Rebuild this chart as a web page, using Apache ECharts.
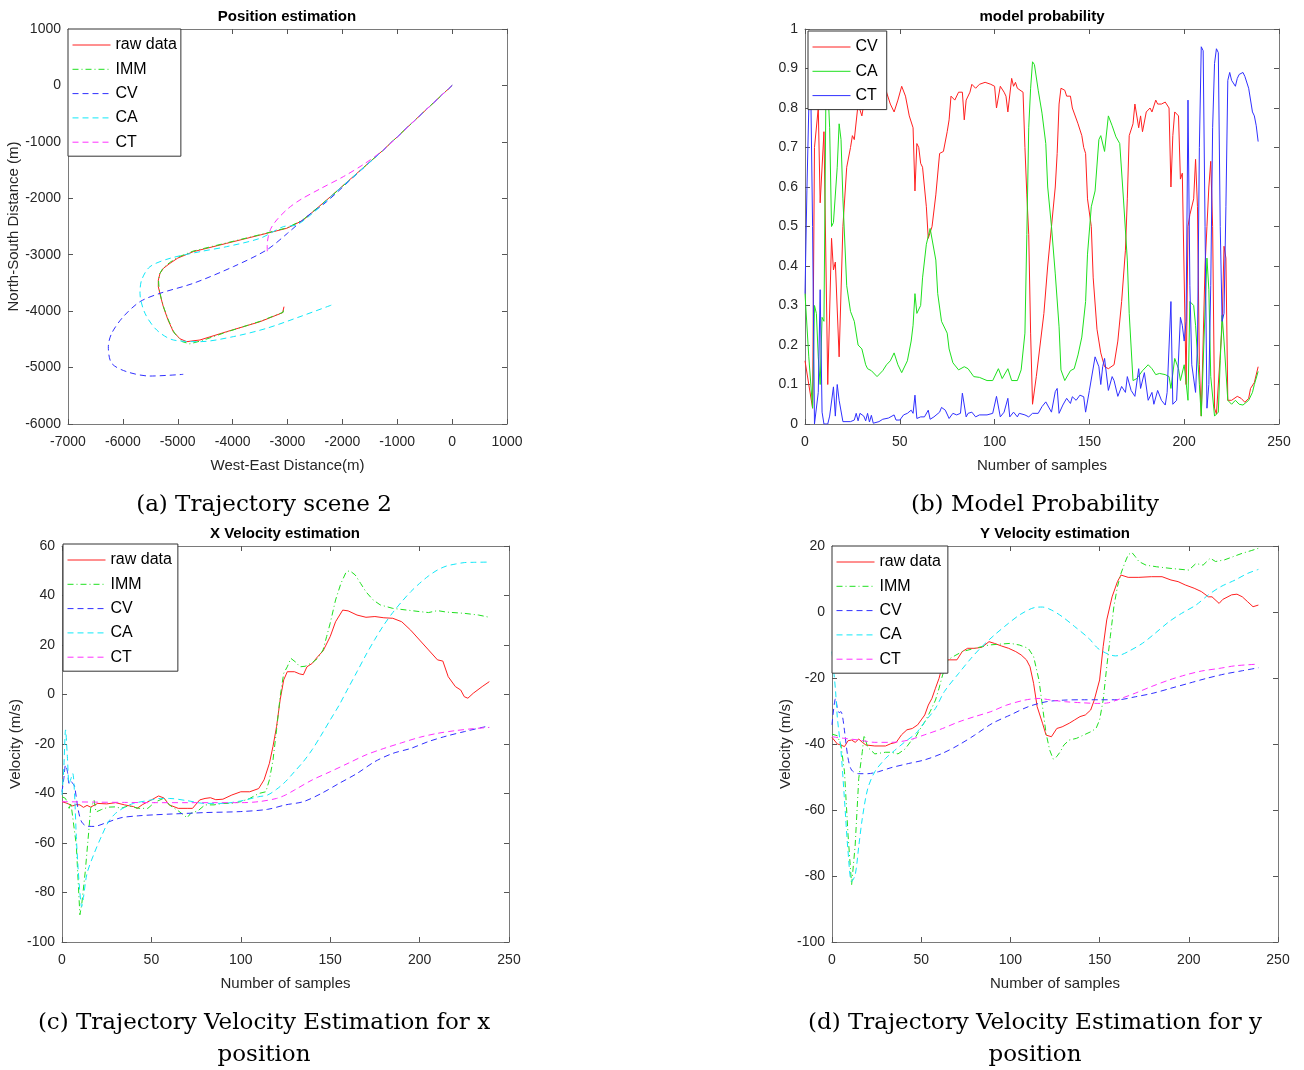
<!DOCTYPE html>
<html>
<head>
<meta charset="utf-8">
<title>IMM tracking results</title>
<script src="https://cdn.jsdelivr.net/npm/echarts@6/dist/echarts.min.js"></script>
<style>
html, body { margin: 0; padding: 0; background: #fff; }
#chart { width: 1304px; height: 1070px; }
</style>
</head>
<body>
<div id="chart"></div>
<script>
// (a) position, [west-east m, north-south m]
const rawPos = [[0,0],[-600,-545],[-1254,-1144],[-1750,-1570],[-2286,-2030],[-2712,-2385],[-2900,-2480],[-3015,-2532],[-3500,-2651],[-4108,-2798],[-4717,-2946],[-5000,-3060],[-5141,-3152],[-5260,-3240],[-5323,-3329],[-5354,-3450],[-5354,-3566],[-5310,-3750],[-5263,-3921],[-5180,-4150],[-5081,-4364],[-4960,-4490],[-4837,-4541],[-4595,-4511],[-4108,-4364],[-3500,-4187],[-3088,-4027],[-3064,-3921]]
const immPos = [[0,0],[-600,-545],[-1254,-1144],[-1750,-1575],[-2286,-2035],[-2712,-2375],[-2900,-2470],[-3015,-2525],[-3500,-2645],[-4108,-2790],[-4717,-2935],[-5000,-3045],[-5150,-3140],[-5270,-3240],[-5330,-3340],[-5350,-3460],[-5340,-3600],[-5300,-3780],[-5250,-3950],[-5160,-4180],[-5060,-4390],[-4920,-4540],[-4780,-4580],[-4550,-4520],[-4108,-4370],[-3500,-4180],[-3080,-4020],[-3070,-3960]]
const cvPos = [[0,0],[-600,-545],[-1254,-1144],[-1750,-1580],[-2286,-2060],[-2651,-2326],[-3000,-2620],[-3380,-2916],[-3988,-3212],[-4717,-3507],[-5323,-3684],[-5688,-3832],[-5992,-4098],[-6204,-4393],[-6265,-4630],[-6204,-4924],[-5930,-5073],[-5506,-5150],[-4900,-5120]]
const caPos = [[0,0],[-600,-545],[-1254,-1144],[-1750,-1575],[-2200,-1960],[-2500,-2230],[-2830,-2470],[-3077,-2503],[-3500,-2709],[-4108,-2857],[-4595,-2946],[-5141,-3064],[-5506,-3212],[-5658,-3448],[-5688,-3684],[-5597,-4038],[-5384,-4334],[-5081,-4511],[-4595,-4541],[-3988,-4452],[-3380,-4304],[-2773,-4098],[-2195,-3891]]
const ctPos = [[0,0],[-600,-545],[-1254,-1144],[-1600,-1390],[-1983,-1617],[-2400,-1830],[-2773,-2030],[-3000,-2190],[-3197,-2385],[-3300,-2530],[-3350,-2680],[-3370,-2830],[-3368,-2975]]

// (b) model probability, [sample, probability]
const cvProb = [[0,0.16],[2,0.1],[4,0.04],[5,0.7],[7,0.8],[8,0.56],[10,0.74],[11,0.74],[12,0.1],[13,0.1],[14,0.47],[15,0.39],[16,0.41],[18,0.17],[20,0.5],[22,0.65],[24,0.7],[25,0.73],[26,0.72],[28,0.81],[30,0.78],[32,0.84],[35,0.86],[38,0.85],[41,0.85],[43,0.84],[45,0.81],[47,0.79],[49,0.82],[51,0.855],[53,0.83],[55,0.78],[57,0.75],[58,0.59],[59,0.71],[60,0.7],[61,0.66],[62,0.65],[64,0.55],[65,0.47],[67,0.5],[69,0.58],[71,0.685],[73,0.69],[75,0.74],[76,0.77],[77,0.83],[79,0.82],[81,0.84],[83,0.84],[84,0.77],[85,0.82],[87,0.84],[88,0.86],[90,0.85],[92,0.86],[95,0.865],[98,0.86],[100,0.855],[101,0.8],[102,0.8],[103,0.855],[105,0.84],[106,0.83],[107,0.79],[109,0.875],[110,0.855],[111,0.865],[112,0.85],[113,0.845],[115,0.84],[116,0.7],[117,0.58],[118,0.48],[119,0.23],[120,0.05],[122,0.12],[126,0.28],[128,0.4],[130,0.5],[132,0.6],[133,0.685],[134,0.81],[135,0.85],[137,0.845],[138,0.83],[140,0.83],[141,0.8],[144,0.76],[146,0.73],[147,0.7],[148,0.685],[149,0.57],[151,0.5],[152,0.37],[154,0.24],[156,0.18],[158,0.145],[160,0.14],[161,0.137],[163,0.15],[165,0.21],[167,0.31],[169,0.44],[170,0.57],[171,0.73],[173,0.76],[174,0.81],[176,0.75],[177,0.78],[178,0.74],[180,0.79],[182,0.8],[183,0.79],[185,0.82],[186,0.81],[188,0.81],[190,0.815],[192,0.8],[193,0.6],[194,0.73],[195,0.79],[197,0.78],[198,0.62],[199,0.635],[200,0.63],[201,0.1],[202,0.5],[203,0.53],[205,0.57],[206,0.67],[207,0.55],[208,0.15],[209,0.02],[210,0.025],[211,0.4],[212,0.5],[213,0.6],[214,0.665],[215,0.5],[216,0.04],[217,0.025],[218,0.03],[220,0.25],[221,0.45],[222,0.42],[223,0.06],[225,0.06],[228,0.07],[230,0.065],[232,0.055],[234,0.065],[235,0.09],[237,0.105],[239,0.145]]
const caProb = [[0,0.33],[2,0.17],[4,0.04],[5,0.3],[6,0.28],[7,0.17],[8,0.1],[9,0.27],[10,0.26],[11,0.82],[12,0.86],[13,0.75],[14,0.5],[15,0.51],[17,0.65],[18,0.76],[19,0.72],[20,0.57],[22,0.35],[24,0.285],[26,0.26],[28,0.2],[30,0.19],[32,0.15],[33,0.14],[35,0.135],[38,0.12],[41,0.135],[43,0.15],[45,0.16],[47,0.18],[49,0.15],[51,0.13],[54,0.16],[56,0.21],[57,0.25],[58,0.33],[59,0.28],[61,0.3],[62,0.37],[64,0.455],[66,0.495],[67,0.49],[69,0.415],[70,0.33],[72,0.26],[75,0.23],[76,0.19],[78,0.155],[81,0.137],[84,0.145],[86,0.14],[89,0.12],[92,0.118],[96,0.11],[99,0.11],[102,0.14],[104,0.115],[107,0.14],[109,0.11],[112,0.11],[114,0.137],[116,0.23],[117,0.48],[118,0.75],[119,0.85],[120,0.917],[121,0.91],[123,0.845],[125,0.787],[127,0.71],[128,0.6],[130,0.5],[132,0.38],[134,0.246],[135,0.137],[137,0.11],[140,0.135],[142,0.14],[144,0.175],[146,0.22],[148,0.31],[149,0.43],[151,0.55],[153,0.59],[155,0.72],[156,0.73],[158,0.69],[160,0.78],[162,0.755],[164,0.727],[166,0.71],[168,0.567],[170,0.415],[171,0.28],[173,0.11],[175,0.115],[178,0.135],[179,0.132],[181,0.15],[183,0.14],[185,0.125],[187,0.128],[190,0.125],[192,0.12],[193,0.09],[195,0.166],[197,0.14],[198,0.11],[200,0.15],[201,0.15],[202,0.06],[203,0.31],[205,0.3],[206,0.25],[208,0.1],[209,0.02],[210,0.025],[212,0.42],[213,0.34],[214,0.12],[216,0.02],[218,0.03],[219,0.16],[220,0.275],[221,0.21],[223,0.06],[225,0.05],[227,0.06],[229,0.05],[231,0.048],[234,0.06],[236,0.08],[237,0.1],[239,0.133]]
const ctProb = [[0,0.33],[1,0.59],[2,0.8],[3,0.86],[4,0.5],[5,0],[6,0],[7,0.08],[8,0.34],[9,0.03],[10,0],[12,0],[13,0.02],[15,0.094],[16,0.02],[17,0.1],[18,0.06],[20,0.006],[24,0.006],[26,0.01],[27,0.027],[28,0.008],[29,0.027],[31,0.02],[32,0.008],[33,0.027],[34,0.005],[35,0.022],[36,0.002],[39,0.006],[41,0.012],[44,0.015],[47,0.023],[48,0.01],[50,0.01],[52,0.023],[54,0.027],[56,0.035],[57,0.027],[58,0.073],[59,0.014],[61,0.018],[62,0.014],[63,0.018],[65,0.035],[66,0.012],[68,0.018],[69,0.014],[71,0.03],[72,0.042],[74,0.035],[76,0.014],[78,0.027],[80,0.023],[82,0.027],[83,0.078],[85,0.018],[86,0.027],[88,0.03],[90,0.018],[92,0.023],[96,0.023],[99,0.027],[101,0.07],[103,0.018],[105,0.03],[107,0.065],[108,0.018],[110,0.03],[112,0.018],[113,0.027],[116,0.023],[118,0.018],[120,0.027],[123,0.027],[125,0.044],[127,0.056],[128,0.056],[130,0.03],[132,0.082],[133,0.09],[134,0.027],[136,0.048],[138,0.065],[140,0.052],[141,0.069],[143,0.06],[145,0.073],[147,0.069],[148,0.03],[150,0.085],[153,0.17],[155,0.145],[156,0.1],[157,0.145],[158,0.166],[160,0.085],[162,0.12],[163,0.11],[165,0.07],[167,0.095],[169,0.08],[170,0.12],[172,0.085],[174,0.07],[176,0.14],[177,0.09],[179,0.13],[181,0.06],[183,0.08],[184,0.05],[186,0.085],[188,0.06],[190,0.048],[191,0.08],[193,0.31],[194,0.05],[196,0.06],[198,0.27],[199,0.25],[200,0.21],[201,0.26],[202,0.82],[203,0.35],[204,0.15],[206,0.08],[207,0.2],[208,0.7],[209,0.955],[210,0.945],[211,0.5],[212,0.04],[213,0.1],[214,0.35],[215,0.75],[216,0.913],[217,0.95],[218,0.94],[219,0.5],[220,0.26],[221,0.28],[222,0.55],[223,0.87],[224,0.89],[225,0.87],[226,0.87],[227,0.855],[228,0.875],[229,0.885],[231,0.89],[232,0.88],[233,0.875],[234,0.85],[235,0.855],[236,0.79],[237,0.78],[238,0.755],[239,0.715]]

// (c) x velocity, [sample, m/s]
const rawVx = [[0,-43.3],[3,-44],[6,-45],[8,-44.5],[10,-44.6],[12,-45.6],[14,-44.8],[16,-45.5],[20,-44],[25,-44.2],[30,-43.7],[35,-44.6],[40,-45.3],[42,-46],[45,-44.5],[50,-42.6],[54,-41],[57,-41.8],[60,-44.6],[65,-46],[70,-46],[73,-46],[77,-42.6],[80,-42],[83,-41.7],[86,-42.5],[90,-42.3],[95,-40.6],[100,-39.3],[105,-39.3],[110,-38],[113,-34.5],[116,-27.8],[118,-21],[120,-13],[122,-2.2],[124,5.9],[126,9.2],[130,9.2],[133,8.3],[135,8],[137,11.2],[140,12.6],[143,15.3],[146,17.6],[150,23.4],[153,29.4],[157,34.1],[160,33.8],[165,32.1],[170,31.2],[175,31.5],[180,31],[185,30.8],[190,29.4],[195,26],[200,22],[205,18],[210,14],[213,13.5],[216,7.2],[220,3.2],[223,1.8],[225,-0.9],[227,-1.5],[230,0.5],[235,3.2],[239,5.2]]
const immVx = [[0,-41.3],[2,-42],[4,-46],[5,-44],[6,-44.5],[8,-60.8],[10,-89],[11,-85],[13,-71.6],[15,-55],[16,-46],[18,-42.8],[19,-47.5],[22,-46.5],[26,-45.5],[30,-45.4],[33,-46],[37,-45],[43,-46],[48,-46],[52,-43.5],[57,-41.9],[60,-44.6],[65,-47],[70,-49.8],[72,-48],[76,-47],[80,-44.6],[85,-44.6],[90,-44],[95,-44],[100,-43.3],[105,-42],[110,-40],[114,-39.3],[116,-34.5],[118,-26.5],[120,-14.3],[122,-0.9],[124,8.6],[126,11.2],[128,14.6],[129,15],[131,12.9],[133,11.2],[136,11.4],[140,12.9],[143,14.6],[146,18],[148,23.4],[150,28.8],[153,38.2],[156,44.9],[159,49.6],[161,50],[164,48.3],[167,44.9],[170,41.5],[174,38.2],[178,36.2],[185,34.8],[193,34.1],[200,33.5],[205,33.1],[210,33.9],[215,33.3],[225,32.8],[233,32.1],[239,31.2]]
const cvVx = [[0,-39.3],[1,-34],[2,-28.5],[3,-31],[4,-36],[5,-35],[6,-36],[7,-37],[9,-46.4],[11,-51.5],[14,-53.2],[18,-53.3],[24,-52],[33,-49.8],[43,-49],[52,-48.6],[61,-48.3],[74,-47.9],[80,-47.7],[100,-47.3],[115,-46.4],[125,-44.6],[135,-43.3],[145,-40],[155,-35.9],[165,-31.9],[175,-27.1],[185,-23.8],[195,-21.8],[205,-19],[215,-16.8],[225,-15],[235,-13.3],[239,-12.7]]
const caVx = [[0,-40.6],[1,-30],[2,-14.3],[3,-25],[4,-36],[5,-34],[6,-31.9],[7,-40],[8,-57.4],[9,-70],[10,-80],[11,-85.7],[12,-82],[14,-72.3],[18,-64.2],[22,-57.4],[26,-51.4],[30,-48],[35,-45.6],[40,-44],[50,-42.6],[55,-42],[60,-42],[70,-42.9],[80,-44],[90,-44],[100,-43],[110,-41.3],[115,-40.6],[120,-38.3],[125,-35.2],[130,-31.2],[135,-27.1],[140,-22.2],[145,-16.4],[150,-10.3],[155,-4.3],[160,2.5],[165,9.2],[170,16],[175,22.3],[180,28.1],[185,33.1],[190,37.5],[195,41.5],[200,44.9],[205,47.9],[210,50.3],[215,51.9],[220,52.7],[225,53.3],[230,53.4],[239,53.5]]
const ctVx = [[0,-43.3],[20,-43.5],[35,-43.6],[50,-43.7],[70,-43.7],[85,-43.7],[100,-43.7],[110,-43.3],[120,-42],[125,-40.6],[130,-38.6],[140,-34.5],[150,-31.2],[160,-27.8],[170,-24.4],[180,-21.8],[190,-19.5],[200,-17.3],[210,-15.7],[220,-14.6],[230,-13.8],[239,-13.3]]

// (d) y velocity, [sample, m/s]
const rawVy = [[0,-38],[3,-40],[5,-40.3],[7,-40.8],[9,-39],[11,-38.8],[13,-39.5],[15,-38.5],[17,-39.5],[19,-40.3],[24,-40.6],[30,-40.6],[33,-39.9],[36,-39.5],[39,-37.2],[42,-35.7],[45,-35.3],[48,-34.2],[50,-32.7],[52,-31.2],[54,-28.2],[56,-26.2],[58,-23.1],[60,-20.1],[62,-16],[65,-14.5],[70,-14.5],[73,-12],[76,-11],[80,-11],[84,-10.7],[88,-9],[91,-9.5],[95,-10.3],[99,-11],[103,-12],[106,-13],[109,-14.5],[111,-16.6],[113,-21.6],[115,-28.7],[118,-33.7],[120,-37.3],[123,-37.8],[126,-35.3],[129,-34.8],[133,-33.7],[136,-32.7],[139,-31.7],[142,-31.2],[145,-29.7],[147,-26.7],[150,-20.6],[152,-10.5],[154,-2.4],[157,4.6],[160,9.2],[162,11.2],[166,10.5],[172,10.5],[179,10.7],[185,10.7],[190,9.7],[194,9.2],[198,8.2],[203,7.2],[207,6.2],[211,4.6],[213,4.6],[217,2.6],[219,3.8],[224,5.2],[227,5.4],[230,4.6],[233,3.1],[236,1.6],[239,2.1]]
const immVy = [[0,-37],[3,-37.5],[5,-40.3],[7,-48.4],[9,-67.6],[11,-82.7],[13,-70.6],[15,-50.4],[17,-42.3],[18,-37.3],[20,-41],[24,-43],[30,-42.5],[33,-42.5],[37,-43],[41,-41.5],[44,-39.3],[47,-37.8],[49,-35.8],[52,-33.3],[55,-30.2],[58,-26.7],[60,-23.1],[62,-19.1],[65,-14.5],[68,-13.5],[73,-12],[80,-11],[88,-10],[95,-9.7],[100,-9.5],[105,-10],[110,-11],[113,-13.5],[116,-20.6],[118,-28.7],[120,-36.8],[122,-41.8],[124,-44.6],[126,-43.8],[128,-42.3],[130,-40.3],[133,-38.8],[137,-38.3],[141,-37.3],[145,-36.3],[148,-35.3],[150,-32.7],[152,-26.7],[154,-16.6],[156,-7.5],[158,1.6],[160,7.7],[162,11.7],[164,14.7],[166,17.3],[168,18.1],[170,16.8],[172,15.3],[176,14.2],[182,13.7],[190,13.2],[200,12.7],[204,14.7],[208,14.2],[212,16.3],[215,15.3],[220,15.8],[225,16.8],[230,17.8],[235,18.6],[239,19.3]]
const cvVy = [[0,-34.2],[2,-26.2],[3,-29],[4,-30.5],[5,-30.2],[6,-32],[7,-36],[9,-44.3],[11,-47.9],[15,-49],[20,-49],[26,-48.4],[33,-47.2],[43,-45.9],[52,-44.8],[62,-42.8],[71,-40.3],[80,-37.3],[90,-33.7],[100,-31.2],[110,-28.7],[120,-27.2],[130,-26.7],[140,-26.6],[150,-26.6],[160,-26.6],[170,-25.7],[180,-24.6],[190,-23.1],[200,-21.6],[210,-20.1],[220,-18.8],[230,-17.8],[239,-16.9]]
const caVy = [[0,-12],[1,-18],[2,-24],[3,-32],[5,-41.9],[7,-56.9],[9,-72.6],[11,-81.7],[13,-79.7],[15,-71],[17,-62.5],[20,-53.6],[24,-48.4],[30,-44.4],[35,-42],[41,-39.3],[47,-36.8],[52,-33.3],[58,-29.2],[63,-24.1],[71,-18.6],[78,-14],[84,-10.5],[91,-7],[99,-3.4],[106,-0.6],[114,1.4],[118,1.5],[123,0.6],[129,-1.4],[136,-4.4],[144,-8],[149,-11],[155,-12.8],[159,-13.3],[162,-13],[166,-12],[174,-9.5],[181,-6.5],[189,-2.9],[196,-0.4],[204,2.1],[211,5.2],[218,7.7],[226,9.7],[233,11.7],[239,12.9]]
const ctVy = [[0,-37.8],[7,-38.3],[15,-38.8],[24,-39.5],[33,-39.5],[43,-38.8],[52,-37.2],[62,-35.3],[71,-33.3],[80,-31.7],[89,-30.2],[98,-28.2],[108,-26.7],[116,-26.2],[123,-26.7],[131,-27.2],[140,-27.5],[149,-27.7],[155,-27.5],[162,-26.2],[170,-24.6],[179,-22.6],[189,-20.6],[198,-19.1],[207,-17.9],[217,-17.1],[226,-16.3],[239,-15.8]]

const chart = echarts.init(document.getElementById('chart'))

const TXT = '#262626'
const SANS = 'Liberation Sans, Arial, sans-serif'
const SERIF = 'DejaVu Serif, serif'
const RED = '#ff2020', GREEN = '#1fe01f', BLUE = '#3030ff', CYAN = '#10e8f8', MAGENTA = '#ff30ff'
const DASH = [6, 4]
const DASHDOT = [6, 3, 1, 3]

const grids = [
  { left: 68, top: 29, width: 439, height: 395 },
  { left: 805, top: 29, width: 474, height: 395 },
  { left: 62, top: 546, width: 447, height: 396 },
  { left: 832, top: 546, width: 446, height: 396 }
]

// bottom/left axis with labels plus a bare top/right mirror to close the box
const axisPair = (dim, gridIndex, min, max, interval, name, nameGap) => {
  const base = {
    type: 'value', gridIndex, min, max, interval,
    axisLine: { show: true, onZero: false, lineStyle: { color: '#7a7a7a', width: 1 } },
    axisTick: { show: true, inside: true, length: 5, lineStyle: { color: '#555' } },
    splitLine: { show: false }
  }
  return [
    {
      ...base,
      position: dim === 'x' ? 'bottom' : 'left',
      axisLabel: {
        color: TXT, fontSize: 14, fontFamily: SANS,
        margin: dim === 'x' ? 11 : 7,
        formatter: v => String(v)
      },
      name,
      nameLocation: 'middle',
      nameGap,
      nameTextStyle: { color: TXT, fontSize: 15, fontFamily: SANS }
    },
    { ...base, position: dim === 'x' ? 'top' : 'right', axisLabel: { show: false } }
  ]
}

const xAxis = [
  ...axisPair('x', 0, -7000, 1000, 1000, 'West-East Distance(m)', 34),
  ...axisPair('x', 1, 0, 250, 50, 'Number of samples', 34),
  ...axisPair('x', 2, 0, 250, 50, 'Number of samples', 34),
  ...axisPair('x', 3, 0, 250, 50, 'Number of samples', 34)
]
const yAxis = [
  ...axisPair('y', 0, -6000, 1000, 1000, 'North-South Distance (m)', 45),
  ...axisPair('y', 1, 0, 1, 0.1, '', 40),
  ...axisPair('y', 2, -100, 60, 20, 'Velocity (m/s)', 39),
  ...axisPair('y', 3, -100, 20, 20, 'Velocity (m/s)', 39)
]

const line = (name, g, data, color, type, smooth) => ({
  name, type: 'line', data,
  xAxisIndex: 2 * g, yAxisIndex: 2 * g,
  symbol: 'none', smooth: smooth || false,
  lineStyle: { color, width: 1, type },
  itemStyle: { color },
  z: 2
})

const series = [
  line('raw data#a', 0, rawPos, RED, 'solid'),
  line('IMM#a', 0, immPos, GREEN, DASHDOT),
  line('CV#a', 0, cvPos, BLUE, DASH, 0.3),
  line('CA#a', 0, caPos, CYAN, DASH, 0.3),
  line('CT#a', 0, ctPos, MAGENTA, DASH, 0.3),

  line('CV#b', 1, cvProb, RED, 'solid'),
  line('CA#b', 1, caProb, GREEN, 'solid'),
  line('CT#b', 1, ctProb, BLUE, 'solid'),

  line('raw data#c', 2, rawVx, RED, 'solid'),
  line('IMM#c', 2, immVx, GREEN, DASHDOT),
  line('CV#c', 2, cvVx, BLUE, DASH, 0.3),
  line('CA#c', 2, caVx, CYAN, DASH, 0.3),
  line('CT#c', 2, ctVx, MAGENTA, DASH, 0.3),

  line('raw data#d', 3, rawVy, RED, 'solid'),
  line('IMM#d', 3, immVy, GREEN, DASHDOT),
  line('CV#d', 3, cvVy, BLUE, DASH, 0.3),
  line('CA#d', 3, caVy, CYAN, DASH, 0.3),
  line('CT#d', 3, ctVy, MAGENTA, DASH, 0.3)
]

const legendBox = (left, top, tag, names, padRight) => ({
  left, top,
  orient: 'vertical', align: 'left',
  data: names.map(n => n + '#' + tag),
  formatter: n => n.split('#')[0],
  itemWidth: 38, itemHeight: 16, itemGap: 8.3,
  padding: [8, padRight, 6, 4],
  backgroundColor: '#fff',
  borderColor: '#333', borderWidth: 1, borderRadius: 0,
  lineStyle: { width: 1 },
  itemStyle: { opacity: 0 },
  textStyle: { color: '#000', fontSize: 16, lineHeight: 16, fontFamily: SANS },
  selectedMode: false
})

const five = ['raw data', 'IMM', 'CV', 'CA', 'CT']

const heading = (text, x, y) => ({
  text, left: x, top: y, textAlign: 'center', padding: 0,
  textStyle: { color: '#000', fontSize: 15, fontWeight: 'bold', fontFamily: SANS, lineHeight: 15 }
})
const caption = (text, x, y) => ({
  text, left: x, top: y, textAlign: 'center', padding: 0,
  textStyle: { color: '#000', fontSize: 23, fontWeight: 'normal', fontFamily: SERIF, lineHeight: 23 }
})

chart.setOption({
  animation: false,
  backgroundColor: '#fff',
  title: [
    heading('Position estimation', 287, 9),
    heading('model probability', 1042, 9),
    heading('X Velocity estimation', 285, 526),
    heading('Y Velocity estimation', 1055, 526),
    caption('(a) Trajectory scene 2', 264, 494),
    caption('(b) Model Probability', 1035, 494),
    caption('(c) Trajectory Velocity Estimation for x', 264, 1012),
    caption('position', 264, 1044),
    caption('(d) Trajectory Velocity Estimation for y', 1035, 1012),
    caption('position', 1035, 1044)
  ],
  legend: [
    legendBox(68, 29, 'a', five, 4),
    legendBox(808, 31, 'b', ['CV', 'CA', 'CT'], 9),
    legendBox(63, 544, 'c', five, 6),
    legendBox(832, 546, 'd', five, 7)
  ],
  grid: grids,
  xAxis,
  yAxis,
  series
})

window.addEventListener('resize', () => chart.resize())
</script>
</body>
</html>
